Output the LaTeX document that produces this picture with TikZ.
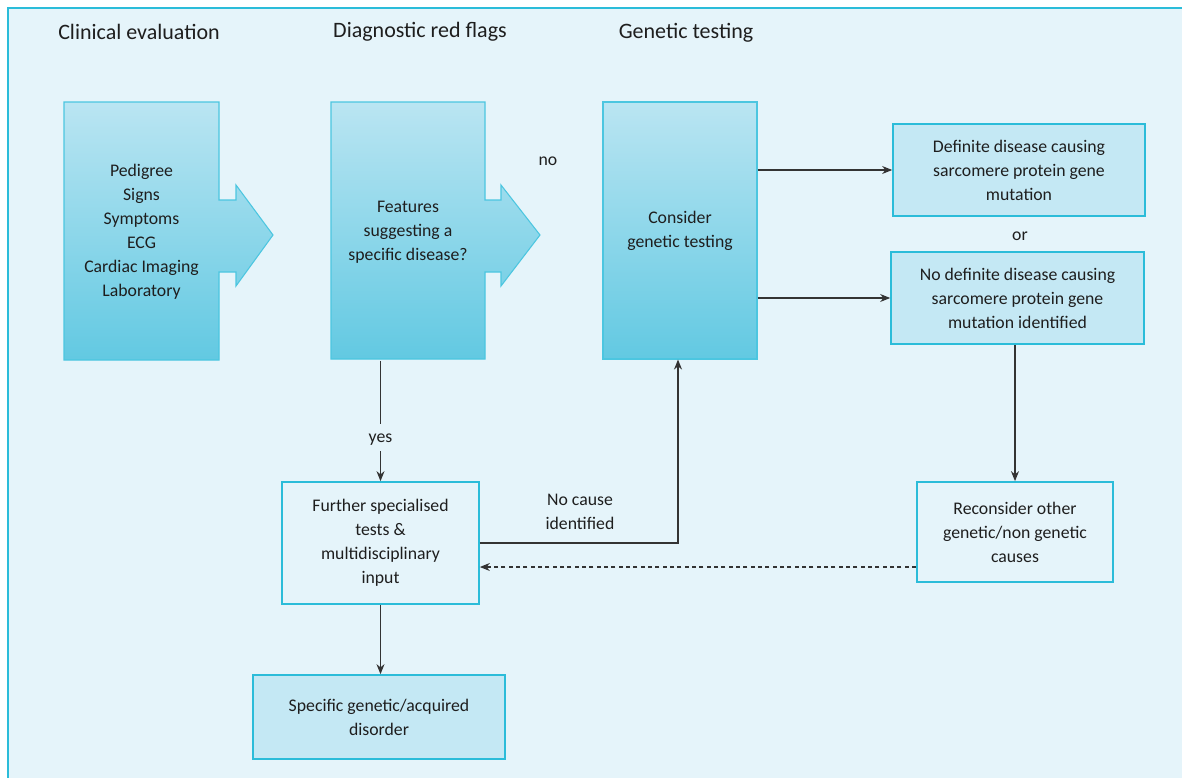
\documentclass[tikz,border=0pt]{standalone}
\usepackage{fontspec}
\setmainfont{Carlito}
\usetikzlibrary{arrows.meta,calc}
\definecolor{bg}{HTML}{E5F4FA}
\definecolor{cyanb}{HTML}{2BBCD9}
\definecolor{bigedge}{HTML}{4CC6E0}
\definecolor{gtop}{HTML}{BAE5F2}
\definecolor{gbot}{HTML}{62C9E2}
\definecolor{boxfill}{HTML}{C4E8F4}
\definecolor{ink}{HTML}{1E1E1E}
\definecolor{linec}{HTML}{333333}
\begin{document}
\begin{tikzpicture}[x=0.75pt,y=-0.75pt,
  txt/.style={font=\fontsize{13.3}{18}\selectfont, text=ink, align=center},
  head/.style={font=\fontsize{16.5}{20}\selectfont, text=ink},
  bigbox/.style={txt, minimum width=115.5pt, minimum height=192.75pt, inner sep=0pt},
  bigshape/.style={draw=bigedge, line width=0.8pt, top color=gtop, bottom color=gbot},
  lightbox/.style={txt, draw=cyanb, line width=1.3pt, fill=boxfill, inner sep=0pt},
  openbox/.style={txt, draw=cyanb, line width=1.3pt, inner sep=0pt},
  conn/.style={draw=linec, line width=0.9pt, -{Stealth[length=7.5pt,width=6pt]}},
]
\useasboundingbox (0,0) rectangle (1182,778);
\fill[bg] (8,8) rectangle (1182,778);
\draw[cyanb, line width=1.5pt] (8,778) -- (8,8) -- (1182,8);

% headings
\node[head] (h1) at (139,32) {Clinical evaluation};
\node[head] (h2) at (420,32) {Diagnostic red flags};
\node[head] (h3) at (686,33) {Genetic testing};

% big arrow boxes
\path[bigshape] (64,102) -- (219,102) -- (219,200) -- (236,200) -- (236,185)
  -- (273,235) -- (236,286) -- (236,272) -- (219,272) -- (219,360) -- (64,360) -- cycle;
\path[bigshape] (331,102) -- (485,102) -- (485,200) -- (501,200) -- (501,185)
  -- (540,235) -- (501,286) -- (501,272) -- (485,272) -- (485,359) -- (331,359) -- cycle;

\node[bigbox] (b1) at (141.5,232) {Pedigree\\Signs\\Symptoms\\ECG\\Cardiac Imaging\\Laboratory};
\node[bigbox] (b2) at (408,232) {Features\\suggesting a\\specific disease?};
\node[bigbox, bigshape] (b3) at (680,230.5) {Consider\\genetic testing};

\node[lightbox, minimum width=189pt, minimum height=69pt] (b4) at (1019,170)
  {Definite disease causing\\sarcomere protein gene\\mutation};
\node[lightbox, minimum width=189.75pt, minimum height=69pt] (b5) at (1017.5,298)
  {No definite disease causing\\sarcomere protein gene\\mutation identified};
\node[openbox, minimum width=147pt, minimum height=75pt] (b6) at (1015,532)
  {Reconsider other\\genetic/non genetic\\causes};
\node[openbox, minimum width=147.75pt, minimum height=91.5pt] (b7) at (380.5,543)
  {Further specialised\\tests \&\\multidisciplinary\\input};
\node[lightbox, minimum width=189pt, minimum height=63pt] (b8) at (379,717)
  {Specific genetic/acquired\\disorder};

% labels
\node[txt] (no) at (548,161) {no};
\node[txt] (or) at (1020,236) {or};
\node[txt] (nc) at (580,512) {No cause\\identified};

% connectors
\draw[conn] (b3.east |- b4.west) -- (b4.west);
\draw[conn] (b3.east |- b5.west) -- (b5.west);
\draw[conn] (b6.north |- b5.south) -- (b6.north);
\draw[conn] (b7.north |- b2.south) -- node[pos=0.64, fill=bg, txt, inner xsep=2pt, inner ysep=4.5pt, text height=9pt, text depth=2.5pt] (yes) {yes} (b7.north);
\draw[conn] (b7.east) -| ([xshift=-1.5pt]b3.south);
\draw[conn, dash pattern=on 3pt off 2.5pt] ($(b6.west)+(0,35)$) -- ($(b7.east)+(0,24)$);
\draw[conn] (b7.south) -- (b7.south |- b8.north);
\end{tikzpicture}
\end{document}
